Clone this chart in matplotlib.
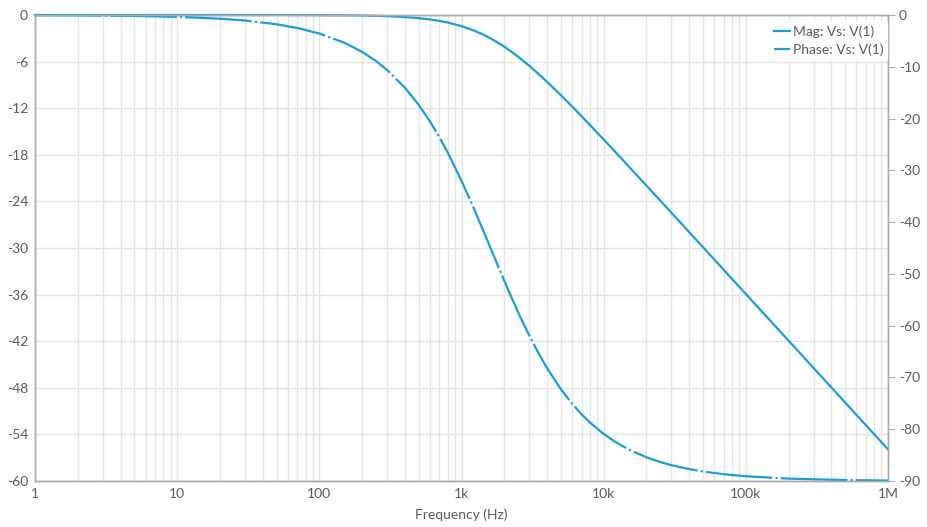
import matplotlib
matplotlib.use("Agg")
import matplotlib.pyplot as plt
from matplotlib.ticker import FixedLocator, LogLocator, NullFormatter

plt.rcParams['font.family'] = ['Lato', 'DejaVu Sans']
plt.rcParams['axes.unicode_minus'] = False

freq = [1, 2, 5, 10, 20, 30, 50, 70, 100, 150, 200, 250, 300, 400, 500, 600, 700,
        800, 1000, 1200, 1400, 1600, 1800, 2000, 2300, 2600, 3000, 3500, 4000,
        5000, 6000, 7000, 8000, 10000, 12000, 15000, 20000, 25000, 30000, 40000,
        50000, 70000, 100000, 200000, 500000, 1000000]

# Magnitude (dB)
mag_db = [0.0, 0.0, 0.0, 0.0, 0.0, -0.002, -0.004, -0.008, -0.017, -0.038, -0.067,
          -0.105, -0.150, -0.263, -0.405, -0.571, -0.760, -0.969, -1.432, -1.938,
          -2.468, -3.010, -3.552, -4.086, -4.866, -5.612, -6.547, -7.623, -8.603,
          -10.320, -11.779, -13.040, -14.150, -16.027, -17.578, -19.489, -21.966,
          -23.894, -25.472, -27.966, -29.902, -32.822, -35.918, -41.938, -49.897,
          -55.918]

# Phase (degrees)
ph_deg = [-0.036, -0.072, -0.179, -0.358, -0.716, -1.074, -1.790, -2.505, -3.576,
          -5.356, -7.125, -8.881, -10.620, -14.036, -17.354, -20.556, -23.629,
          -26.565, -32.005, -36.870, -41.186, -45.000, -48.366, -51.340, -55.176,
          -58.392, -61.928, -65.433, -68.199, -72.255, -75.069, -77.125, -78.690,
          -80.910, -82.405, -83.911, -85.426, -86.338, -86.947, -87.709, -88.167,
          -88.691, -89.083, -89.542, -89.817, -89.908]

left_ticks = [0, -6, -12, -18, -24, -30, -36, -42, -48, -54, -60]
right_ticks = [0, -10, -20, -30, -40, -50, -60, -70, -80, -90]
x_ticks = [1, 10, 100, 1000, 10000, 100000, 1000000]
x_labels = ['1', '10', '100', '1k', '10k', '100k', '1M']

color = '#1a9dd8'
grid_c = '#e4e4e4'
spine_c = '#ababab'
text_c = '#5a5a5a'

fig = plt.figure(figsize=(9.28, 5.27), dpi=100)
ax = fig.add_axes([35/928, 1-481/527, (888-35)/928, (481-15)/527])
ax2 = ax.twinx()

ax.set_xscale('log')
ax.set_xlim(1, 1e6)
ax.set_ylim(-60, 0)
ax2.set_ylim(-90, 0)

ax.xaxis.set_major_locator(FixedLocator(x_ticks))
ax.set_xticklabels(x_labels)
ax.xaxis.set_minor_locator(LogLocator(base=10, subs=range(2, 10), numticks=100))
ax.xaxis.set_minor_formatter(NullFormatter())
ax.yaxis.set_major_locator(FixedLocator(left_ticks))
ax.set_yticklabels([str(t) for t in left_ticks])
ax2.yaxis.set_major_locator(FixedLocator(right_ticks))
ax2.set_yticklabels([str(t) for t in right_ticks])

ax.grid(True, which='both', axis='x', color=grid_c, lw=1)
ax.grid(True, which='major', axis='y', color=grid_c, lw=1)
ax.set_axisbelow(True)

for a in (ax, ax2):
    for s in a.spines.values():
        s.set_color(spine_c)
        s.set_linewidth(1)
ax.tick_params(axis='both', which='both', length=0, labelsize=10, labelcolor=text_c, pad=5)
ax2.tick_params(axis='y', length=5, color=spine_c, labelsize=10, labelcolor=text_c, pad=3)

l1, = ax.plot(freq, mag_db, color=color, lw=1.6, label='Mag: Vs: V(1)')
l2, = ax2.plot(freq, ph_deg, color=color, lw=1.6, label='Phase: Vs: V(1)',
               dashes=(30, 1.4, 1, 1.4))
for l in (l1, l2):
    l.set_clip_on(False)

ax.set_xlabel('Frequency (Hz)', color=text_c, fontsize=10, labelpad=6)

leg = ax2.legend(handles=[l1, l2], loc='upper right', frameon=True, fontsize=10,
                 handlelength=1.2, handletextpad=0.15, borderaxespad=0.05,
                 borderpad=0.3, labelspacing=0.42, bbox_to_anchor=(1.0, 0.989))
leg.get_frame().set_edgecolor('white')
leg.get_frame().set_facecolor('white')
leg.get_frame().set_alpha(1)
for t in leg.get_texts():
    t.set_color(text_c)

fig.savefig('out.png', dpi=100)
